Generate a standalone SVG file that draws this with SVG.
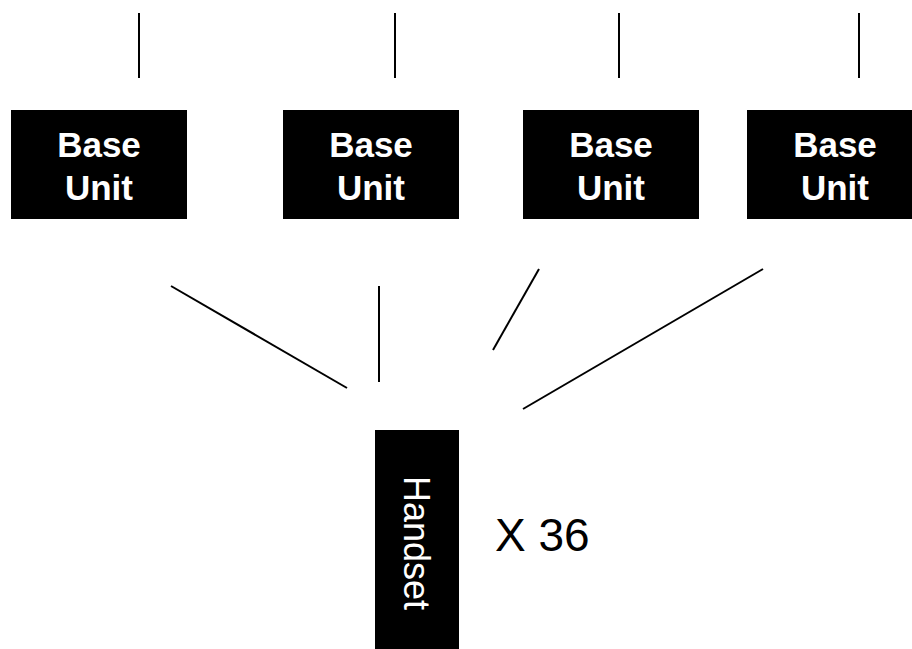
<svg xmlns="http://www.w3.org/2000/svg" width="912" height="649" viewBox="0 0 912 649">
<style>
.box{fill:#000}
.lbl{font-family:"Liberation Sans",Arial,sans-serif;font-weight:bold;font-size:35px;fill:#fff;text-anchor:middle}
.ln{stroke:#000;stroke-width:2;fill:none}
.hs{font-family:"Liberation Sans",Arial,sans-serif;font-size:36px;fill:#fff;text-anchor:middle}
.cnt{font-family:"Liberation Sans",Arial,sans-serif;font-size:46px;fill:#000}
</style>
<rect width="912" height="649" fill="#fff"/>
<g id="connectors">
<line class="ln" x1="139" y1="13" x2="139" y2="78"/>
<line class="ln" x1="395" y1="13" x2="395" y2="78"/>
<line class="ln" x1="619" y1="13" x2="619" y2="78"/>
<line class="ln" x1="859" y1="13" x2="859" y2="78"/>
<line class="ln" x1="171" y1="286" x2="347" y2="388"/>
<line class="ln" x1="379" y1="286" x2="379" y2="382"/>
<line class="ln" x1="539" y1="269" x2="493" y2="350"/>
<line class="ln" x1="763" y1="269" x2="523" y2="409"/>
</g>
<g id="base1">
<rect class="box" x="11" y="110" width="176" height="109"/>
<text class="lbl" x="99" y="157">Base</text>
<text class="lbl" x="99" y="200">Unit</text>
</g>
<g id="base2">
<rect class="box" x="283" y="110" width="176" height="109"/>
<text class="lbl" x="371" y="157">Base</text>
<text class="lbl" x="371" y="200">Unit</text>
</g>
<g id="base3">
<rect class="box" x="523" y="110" width="176" height="109"/>
<text class="lbl" x="611" y="157">Base</text>
<text class="lbl" x="611" y="200">Unit</text>
</g>
<g id="base4">
<rect class="box" x="747" y="110" width="176" height="109"/>
<text class="lbl" x="835" y="157">Base</text>
<text class="lbl" x="835" y="200">Unit</text>
</g>
<g id="handset">
<rect class="box" x="375" y="430" width="84" height="220"/>
<text class="hs" transform="translate(404,543) rotate(90)">Handset</text>
</g>
<g id="count">
<text class="cnt" x="495" y="551">X 36</text>
</g>
</svg>
